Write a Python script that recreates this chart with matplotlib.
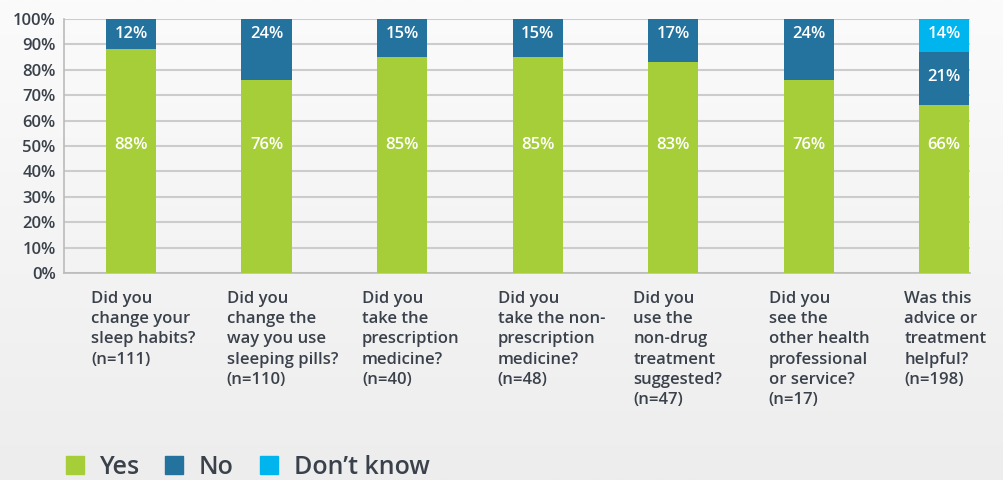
import numpy as np
import matplotlib
matplotlib.use("Agg")
import matplotlib.pyplot as plt
from matplotlib.patches import Patch
from matplotlib import transforms

plt.rcParams['font.family'] = ['Open Sans', 'DejaVu Sans']
plt.rcParams['font.weight'] = 600

# Daten
fragen = [
    "Did you\nchange your\nsleep habits?\n(n=111)",
    "Did you\nchange the\nway you use\nsleeping pills?\n(n=110)",
    "Did you\ntake the\nprescription\nmedicine?\n(n=40)",
    "Did you\ntake the non-\nprescription\nmedicine?\n(n=48)",
    "Did you\nuse the\nnon-drug\ntreatment\nsuggested?\n(n=47)",
    "Did you\nsee the\nother health\nprofessional\nor service?\n(n=17)",
    "Was this\nadvice or\ntreatment\nhelpful?\n(n=198)",
]
ja = [88, 76, 85, 85, 83, 76, 66]
nein = [12, 24, 15, 15, 17, 24, 21]
weiss_nicht = [0, 0, 0, 0, 0, 0, 14]
yticks = list(range(0, 101, 10))

gruen = "#a6ce39"
dunkelblau = "#24729e"
hellblau = "#00b5ee"
textfarbe = "#3a414b"

fig = plt.figure(figsize=(10.04, 4.8), dpi=100)

# Hintergrund mit leichtem Verlauf
bg = fig.add_axes([0, 0, 1, 1], zorder=-10)
verlauf = np.linspace(0, 1, 256).reshape(-1, 1)
bg.imshow(verlauf, aspect="auto", cmap=matplotlib.colors.LinearSegmentedColormap.from_list(
    "bg", ["#fbfbfb", "#ededed"]), extent=[0, 1, 0, 1])
bg.axis("off")

ax = fig.add_axes([64 / 1004, 207 / 480, 906 / 1004, 254 / 480])
ax.set_facecolor("none")

x = np.arange(len(fragen))
breite = 0.37
ja_arr = np.array(ja)
nein_arr = np.array(nein)
dk_arr = np.array(weiss_nicht)

ax.bar(x, ja_arr, breite, color=gruen, zorder=3)
ax.bar(x, nein_arr, breite, bottom=ja_arr, color=dunkelblau, zorder=3)
ax.bar(x, dk_arr, breite, bottom=ja_arr + nein_arr, color=hellblau, zorder=3)

# Beschriftungen in den Balken
for i in range(len(fragen)):
    ax.text(x[i], 50.5, f"{ja[i]}%", color="white", ha="center", va="center", fontsize=12, zorder=4)
    if weiss_nicht[i] > 0:
        ax.text(x[i], ja[i] + nein[i] / 2 + 0.5, f"{nein[i]}%", color="white", ha="center",
                va="center", fontsize=12, zorder=4)
        ax.text(x[i], 94, f"{weiss_nicht[i]}%", color="white", ha="center", va="center",
                fontsize=12, zorder=4)
    else:
        ax.text(x[i], 94, f"{nein[i]}%", color="white", ha="center", va="center",
                fontsize=12, zorder=4)

ax.set_xlim(-0.494, 6.19)
ax.set_ylim(0, 100)
ax.set_yticks(yticks)
ax.set_yticklabels([f"{t}%" for t in yticks], color=textfarbe, fontsize=12)
ax.set_xticks([])
ax.yaxis.grid(True, color="#cccccc", linewidth=1.5, zorder=0)
ax.tick_params(axis="y", length=0, pad=6)
for s in ["top", "right"]:
    ax.spines[s].set_visible(False)
ax.spines["left"].set_color("#bbbbbb")
ax.spines["left"].set_linewidth(1.2)
ax.spines["bottom"].set_color("#bbbbbb")
ax.spines["bottom"].set_linewidth(1.2)

# Kategorien unter der Achse
trans = transforms.blended_transform_factory(ax.transData, ax.transAxes)
for i, f in enumerate(fragen):
    ax.text(x[i] - 0.295, -0.07, f, transform=trans, ha="left", va="top",
            color=textfarbe, fontsize=12, linespacing=1.36)

# Legende
handles = [Patch(color=gruen, label="Yes"), Patch(color=dunkelblau, label="No"),
           Patch(color=hellblau, label="Don\u2019t know")]
fig.legend(handles=handles, loc="lower left", bbox_to_anchor=(43 / 1004, -0.047), ncol=3,
           frameon=False, fontsize=18, handlelength=0.72, handleheight=0.72,
           handletextpad=0.62, columnspacing=1.05, labelcolor=textfarbe)

fig.savefig("out.png", dpi=100)
plt.close()
